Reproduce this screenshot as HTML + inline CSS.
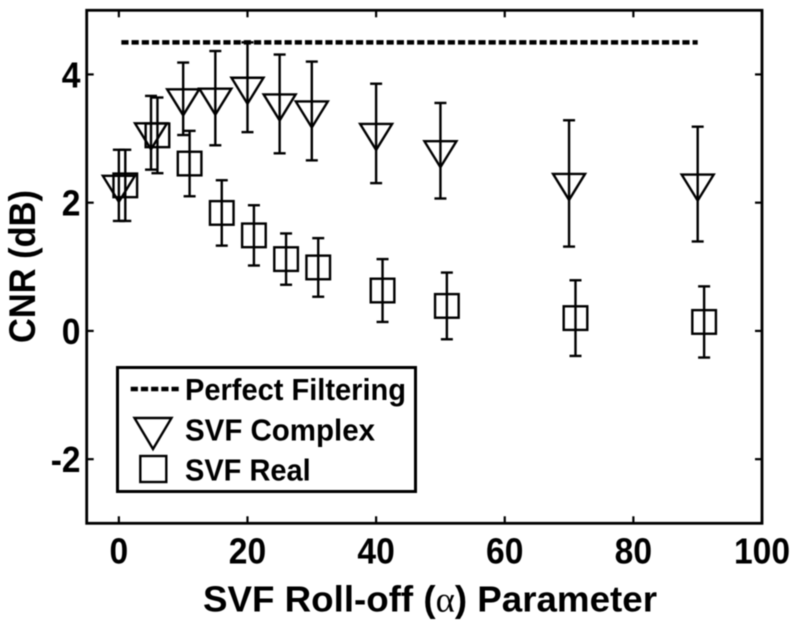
<!DOCTYPE html>
<html lang="en">
<head>
<meta charset="utf-8">
<title>CNR vs SVF Roll-off Parameter</title>
<style>
html,body{margin:0;padding:0;background:#fff;}
svg{display:block;}
text{font-family:"Liberation Sans",sans-serif;font-weight:bold;fill:#000;}
#content{filter:blur(0.45px);}
</style>
</head>
<body>
<svg id="chart" xmlns="http://www.w3.org/2000/svg" width="800" height="629" viewBox="0 0 800 629"><g id="content"></g></svg>
<script>
const xTicks = [0, 20, 40, 60, 80, 100];
const yTicks = [-2, 0, 2, 4];
const perfectX = [0, 90];
const perfectY = [4.5, 4.5];
const complexX = [0, 5, 10, 15, 20, 25, 30, 40, 50, 70, 90];
const complexMean = [2.27, 3.09, 3.62, 3.63, 3.80, 3.54, 3.43, 3.08, 2.81, 2.30, 2.29];
const complexErr = [0.555, 0.575, 0.565, 0.735, 0.70, 0.77, 0.77, 0.775, 0.745, 0.985, 0.895];
const realX = [1, 6, 11, 16, 21, 26, 31, 41, 51, 71, 91];
const realMean = [2.27, 3.05, 2.61, 1.84, 1.49, 1.12, 0.99, 0.63, 0.39, 0.20, 0.14];
const realErr = [0.555, 0.59, 0.51, 0.51, 0.47, 0.40, 0.457, 0.49, 0.52, 0.59, 0.555];

const plot = {left: 86.7, right: 762, top: 10.3, bottom: 523.3};
const xDomain = [-5, 100];
const yDomain = [-3, 5];
function xs(v){ return plot.left + (v - xDomain[0]) / (xDomain[1] - xDomain[0]) * (plot.right - plot.left); }
function ys(v){ return plot.bottom - (v - yDomain[0]) / (yDomain[1] - yDomain[0]) * (plot.bottom - plot.top); }

const svg = document.getElementById('content');
const NS = 'http://www.w3.org/2000/svg';
function mk(tag, attrs, parent){
  const el = document.createElementNS(NS, tag);
  for (const k in attrs) el.setAttribute(k, attrs[k]);
  (parent || svg).appendChild(el);
  return el;
}
function line(x1, y1, x2, y2, w, parent){
  return mk('line', {x1: x1, y1: y1, x2: x2, y2: y2, stroke: '#000', 'stroke-width': w}, parent);
}
function triangle(cx, cy, hw, up, down, parent){
  const p = (cx - hw) + ',' + (cy - up) + ' ' + (cx + hw) + ',' + (cy - up) + ' ' + cx + ',' + (cy + down);
  return mk('polygon', {points: p, fill: 'none', stroke: '#000', 'stroke-width': 2.4, 'stroke-linejoin': 'miter'}, parent);
}
function square(cx, cy, h, parent){
  return mk('rect', {x: cx - h, y: cy - h, width: 2 * h, height: 2 * h, fill: 'none', stroke: '#000', 'stroke-width': 2.4}, parent);
}
function label(txt, x, y, size, anchor, parent, len){
  const t = mk('text', {x: x, y: y, 'font-size': size, 'text-anchor': anchor, textLength: len, lengthAdjust: 'spacingAndGlyphs'}, parent);
  t.textContent = txt;
  return t;
}
function tickWidth(txt){
  return (txt.charAt(0) === '-' ? 11 : 0) + txt.replace('-', '').length * 18.7;
}

/* Axes */
const frame = mk('rect', {x: plot.left, y: plot.top, width: plot.right - plot.left, height: plot.bottom - plot.top, fill: 'none', stroke: '#000', 'stroke-width': 2.8});



xTicks.forEach(function(v){
  const g = mk('g', {});
  
  
  line(xs(v), plot.bottom, xs(v), plot.bottom - 7, 2.2, g);
  line(xs(v), plot.top, xs(v), plot.top + 7, 2.2, g);
  label(String(v), xs(v), 563.5, 36, 'middle', g, tickWidth(String(v)));
});
yTicks.forEach(function(v){
  const g = mk('g', {});
  
  
  line(plot.left, ys(v), plot.left + 7, ys(v), 2.2, g);
  line(plot.right, ys(v), plot.right - 7, ys(v), 2.2, g);
  label(String(v), 80.5, ys(v) + 13, 36, 'end', g, tickWidth(String(v)));
});

/* Perfect filtering */
const perfect = line(xs(perfectX[0]) + 2.5, ys(perfectY[0]), xs(perfectX[1]), ys(perfectY[1]), 4.4);
perfect.setAttribute('stroke-dasharray', '7.2 3');



/* SVF Complex */
complexX.forEach(function(x, i){
  const g = mk('g', {});
  
  
  const cx = xs(x);
  const hi = ys(complexMean[i] + complexErr[i]);
  const lo = ys(complexMean[i] - complexErr[i]);
  line(cx, hi, cx, lo, 2.4, g);
  line(cx - 6, hi, cx + 6, hi, 2.4, g);
  line(cx - 6, lo, cx + 6, lo, 2.4, g);
  triangle(cx, ys(complexMean[i]), 16, 9.5, 16.5, g);
});

/* SVF Real */
realX.forEach(function(x, i){
  const g = mk('g', {});
  
  
  const cx = xs(x);
  const hi = ys(realMean[i] + realErr[i]);
  const lo = ys(realMean[i] - realErr[i]);
  line(cx, hi, cx, lo, 2.4, g);
  line(cx - 6, hi, cx + 6, hi, 2.4, g);
  line(cx - 6, lo, cx + 6, lo, 2.4, g);
  square(cx, ys(realMean[i]), 11.8, g);
});

/* Legend */
const legend = mk('g', {});


mk('rect', {x: 117.5, y: 367.5, width: 298, height: 124, fill: '#fff', stroke: '#000', 'stroke-width': 3}, legend);
const legendDash = line(130.7, 389, 179, 389, 4.4, legend);
legendDash.setAttribute('stroke-dasharray', '7.2 3');


const legendText1 = label('Perfect Filtering', 185, 400, 30.5, 'start', legend, 221);


const legendTri = triangle(153, 428, 18.5, 10, 21, legend);


const legendText2 = label('SVF Complex', 185, 440.7, 30.5, 'start', legend, 190);


const legendSq = square(153.3, 469, 13, legend);


const legendText3 = label('SVF Real', 185, 480.7, 30.5, 'start', legend, 125.7);



/* Axis titles */
const xTitle = mk('text', {x: 203, y: 611.5, 'font-size': 36, textLength: 454, lengthAdjust: 'spacingAndGlyphs'});


xTitle.appendChild(document.createTextNode('SVF Roll-off ('));
const alpha = mk('tspan', {style: 'font-family:"Liberation Serif",serif;font-weight:normal'}, xTitle);
alpha.textContent = 'α';
xTitle.appendChild(document.createTextNode(') Parameter'));

const yTitle = mk('text', {transform: 'translate(35 343) rotate(-90)', x: 0, y: 0, 'font-size': 37, textLength: 153, lengthAdjust: 'spacingAndGlyphs'});


yTitle.textContent = 'CNR (dB)';
</script>
</body>
</html>
